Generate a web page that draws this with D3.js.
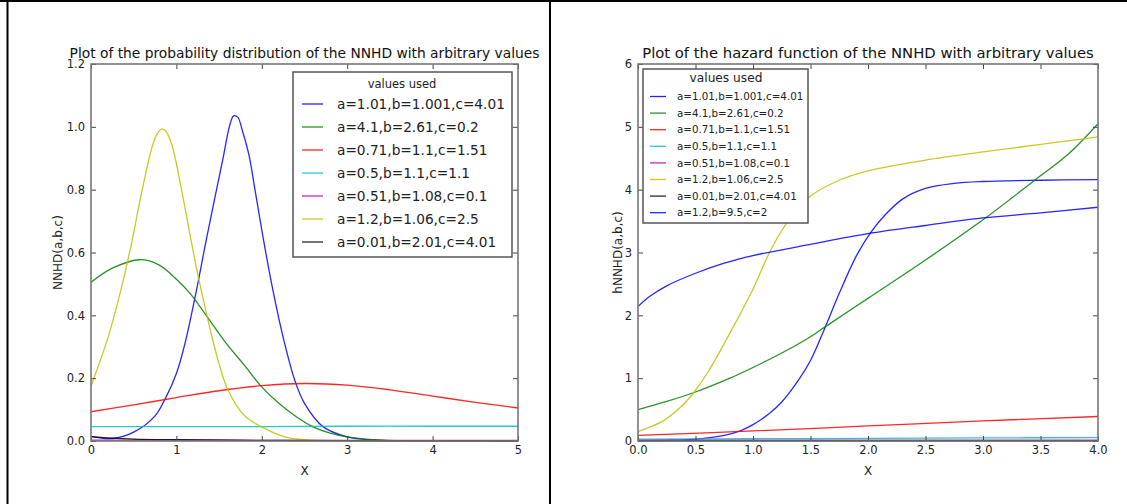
<!DOCTYPE html>
<html>
<head>
<meta charset="utf-8">
<script src="https://cdn.jsdelivr.net/npm/d3@7"></script>
<style>
  body { margin: 0; background: #fff; }
  svg { display: block; font-family: "DejaVu Sans", sans-serif; }
</style>
</head>
<body>
<div id="chart"></div>
<script>
// legend labels, same parameter sets for both plots (hazard plot has one extra)
var pdfLabels = ["a=1.01,b=1.001,c=4.01", "a=4.1,b=2.61,c=0.2", "a=0.71,b=1.1,c=1.51",
  "a=0.5,b=1.1,c=1.1", "a=0.51,b=1.08,c=0.1", "a=1.2,b=1.06,c=2.5", "a=0.01,b=2.01,c=4.01"];
var hazLabels = pdfLabels.concat(["a=1.2,b=9.5,c=2"]);
var seriesColors = ["#0000ff", "#008000", "#ff0000", "#00bfbf", "#bf00bf", "#bfbf00", "#000000", "#0000ff"];

// x ticks / y ticks
var pdfXTicks = [0, 1, 2, 3, 4, 5];
var pdfYTicks = [0, 0.2, 0.4, 0.6, 0.8, 1.0, 1.2];
var hazXTicks = [0, 0.5, 1, 1.5, 2, 2.5, 3, 3.5, 4];
var hazYTicks = [0, 1, 2, 3, 4, 5, 6];

// values, [x, y]
var pdfBlue = [[0,0.015],[0.25,0.008],[0.5,0.028],[0.75,0.08],[0.87,0.135],[1.0,0.215],[1.1,0.31],[1.22,0.46],
  [1.35,0.64],[1.47,0.8],[1.55,0.905],[1.62,1.0],[1.67,1.035],[1.72,1.03],[1.77,0.99],[1.85,0.91],[1.92,0.8],
  [2.02,0.64],[2.13,0.48],[2.25,0.33],[2.39,0.19],[2.5,0.12],[2.72,0.045],[3.0,0.013],[3.25,0.004],[3.5,0.001],
  [4,0],[5,0]];
var pdfGreen = [[0,0.505],[0.25,0.55],[0.57,0.577],[0.8,0.56],[1.0,0.515],[1.16,0.47],[1.4,0.38],[1.6,0.305],
  [1.8,0.24],[1.98,0.178],[2.2,0.12],[2.4,0.078],[2.6,0.045],[2.8,0.025],[3.0,0.013],[3.3,0.004],[3.6,0.001],[4,0],[5,0]];
var pdfRed = [[0,0.093],[0.5,0.115],[1,0.138],[1.5,0.16],[2,0.176],[2.5,0.183],[3,0.178],[3.5,0.163],
  [4,0.143],[4.5,0.123],[5,0.105]];
var pdfCyan = [[0,0.046],[1,0.046],[2,0.046],[3,0.047],[4,0.047],[5,0.047]];
var pdfMagenta = [[0,0.003],[1,0.003],[2,0.002],[3,0.002],[4,0.002],[5,0.002]];
var pdfYellow = [[0,0.175],[0.2,0.33],[0.34,0.47],[0.46,0.61],[0.6,0.8],[0.72,0.94],[0.78,0.98],[0.83,0.993],
  [0.88,0.985],[0.95,0.94],[1.06,0.8],[1.15,0.67],[1.25,0.53],[1.3,0.47],[1.4,0.35],[1.5,0.245],[1.6,0.165],
  [1.8,0.08],[2.0,0.045],[2.25,0.015],[2.5,0.004],[3,0],[5,0]];
var pdfBlack = [[0,0.014],[0.25,0.009],[0.5,0.006],[1,0.004],[2,0.002],[3,0.001],[5,0]];

// values, [x, y]
var hazBlue = [[0,0.005],[0.25,0.01],[0.5,0.03],[0.75,0.09],[0.9,0.17],[1.0,0.26],[1.15,0.45],[1.25,0.62],
  [1.4,0.98],[1.5,1.28],[1.63,1.82],[1.75,2.35],[1.9,2.95],[2.02,3.31],[2.15,3.6],[2.3,3.85],[2.5,4.02],
  [2.75,4.1],[3.0,4.13],[3.5,4.15],[4,4.16]];
var hazGreen = [[0,0.5],[0.25,0.63],[0.5,0.78],[0.8,1.0],[1.0,1.17],[1.25,1.4],[1.5,1.66],[1.63,1.82],
  [2.0,2.27],[2.5,2.88],[3.0,3.52],[3.45,4.15],[3.75,4.58],[4.0,5.05]];
var hazRed = [[0,0.09],[1,0.16],[2,0.24],[3,0.32],[4,0.39]];
var hazCyan = [[0,0.03],[1,0.036],[2,0.042],[3,0.049],[4,0.055]];
var hazMagenta = [[0,0.012],[1,0.012],[2,0.012],[3,0.012],[4,0.012]];
var hazYellow = [[0,0.15],[0.2,0.3],[0.3,0.43],[0.4,0.59],[0.48,0.76],[0.6,1.07],[0.8,1.72],[1.0,2.42],[1.13,2.95],
  [1.25,3.35],[1.38,3.68],[1.5,3.9],[1.75,4.15],[2.0,4.3],[2.5,4.47],[3.0,4.6],[3.5,4.72],[4.0,4.84]];
var hazBlack = [[0,0.004],[1,0.004],[2,0.004],[3,0.004],[4,0.004]];
var hazBlue2 = [[0,2.14],[0.1,2.3],[0.25,2.47],[0.5,2.67],[0.75,2.83],[1.0,2.95],[1.5,3.13],[2,3.3],
  [2.5,3.43],[3,3.55],[3.5,3.63],[4,3.72]];

var pdfSeries = [pdfBlue, pdfGreen, pdfRed, pdfCyan, pdfMagenta, pdfYellow, pdfBlack];
var hazSeries = [hazBlue, hazGreen, hazRed, hazCyan, hazMagenta, hazYellow, hazBlack, hazBlue2];

var width = 1127, height = 504;
var svg = d3.select("#chart").append("svg")
  .attr("width", width)
  .attr("height", height);

// table cell borders around the two pictures
svg.append("line").attr("x1", 0).attr("x2", width).attr("y1", 1).attr("y2", 1)
  .attr("stroke", "#000").attr("stroke-width", 2);
svg.append("line").attr("x1", 7.5).attr("x2", 7.5).attr("y1", 0).attr("y2", height)
  .attr("stroke", "#000").attr("stroke-width", 2);
svg.append("line").attr("x1", 550).attr("x2", 550).attr("y1", 0).attr("y2", height)
  .attr("stroke", "#000").attr("stroke-width", 2);

function drawPlot(opt) {
  var x = d3.scaleLinear().domain(opt.xDomain).range([opt.left, opt.right]);
  var y = d3.scaleLinear().domain(opt.yDomain).range([opt.bottom, opt.top]);
  var g = svg.append("g");

  var clipId = "clip-" + opt.id;
  svg.append("clipPath").attr("id", clipId).append("rect")
    .attr("x", opt.left).attr("y", opt.top - 2)
    .attr("width", opt.right - opt.left).attr("height", opt.bottom - opt.top + 3);

  var line = d3.line()
    .x(function(d){ return x(d[0]); })
    .y(function(d){ return y(d[1]); })
    .curve(d3.curveCatmullRom.alpha(0.5));

  g.append("g").attr("clip-path", "url(#" + clipId + ")")
    .selectAll("path")
    .data(opt.series)
    .join("path")
    .attr("fill", "none")
    .attr("stroke", function(d, i){ return seriesColors[i]; })
    .attr("stroke-width", 1.3)
    .attr("stroke-opacity", 0.85)
    .attr("d", line);

  //ticks point inwards on all four sides, labels only bottom and left
  var bottom = g.append("g").attr("transform", "translate(0," + opt.bottom + ")")
    .call(d3.axisBottom(x).tickValues(opt.xTicks).tickFormat(d3.format(opt.xFormat)).tickSize(-5).tickPadding(5));
  var top = g.append("g").attr("transform", "translate(0," + opt.top + ")")
    .call(d3.axisTop(x).tickValues(opt.xTicks).tickFormat("").tickSize(-5));
  var left = g.append("g").attr("transform", "translate(" + opt.left + ",0)")
    .call(d3.axisLeft(y).tickValues(opt.yTicks).tickFormat(d3.format(opt.yFormat)).tickSize(-5).tickPadding(6));
  var right = g.append("g").attr("transform", "translate(" + opt.right + ",0)")
    .call(d3.axisRight(y).tickValues(opt.yTicks).tickFormat("").tickSize(-5));
  [bottom, top, left, right].forEach(function(a){
    a.select(".domain").remove();
    a.selectAll("line").attr("stroke", "#444");
    a.selectAll("text").attr("fill", "#222").style("font-size", "11.5px")
      .style("font-family", "DejaVu Sans, sans-serif");
  });

  g.append("rect")
    .attr("x", opt.left).attr("y", opt.top)
    .attr("width", opt.right - opt.left).attr("height", opt.bottom - opt.top)
    .attr("fill", "none").attr("stroke", "#777").attr("stroke-width", 1.6);

  g.append("text")
    .attr("x", (opt.left + opt.right) / 2).attr("y", opt.top - 6)
    .attr("text-anchor", "middle").attr("font-size", opt.titleSize).attr("fill", "#111")
    .text(opt.title);
  g.append("text")
    .attr("x", (opt.left + opt.right) / 2).attr("y", 475)
    .attr("text-anchor", "middle").attr("font-size", 12).attr("fill", "#222")
    .text("X");
  g.append("text")
    .attr("transform", "translate(" + opt.yLabelX + "," + ((opt.top + opt.bottom) / 2) + ") rotate(-90)")
    .attr("text-anchor", "middle").attr("font-size", 12).attr("fill", "#222")
    .text(opt.yLabel);

  //legend box
  var L = opt.legend;
  var lg = g.append("g");
  lg.append("rect")
    .attr("x", L.x).attr("y", L.y).attr("width", L.w).attr("height", L.h)
    .attr("fill", "#fff").attr("stroke", "#555").attr("stroke-width", 1.5);
  lg.append("text")
    .attr("x", L.titleX).attr("y", L.titleY)
    .attr("text-anchor", "middle").attr("font-size", L.titleSize).attr("fill", "#222")
    .text("values used");
  var rows = lg.selectAll("g.row").data(opt.labels).join("g").attr("class", "row")
    .attr("transform", function(d, i){ return "translate(0," + (L.firstY + i * L.step) + ")"; });
  rows.append("line")
    .attr("x1", L.x + L.sample[0]).attr("x2", L.x + L.sample[1])
    .attr("stroke", function(d, i){ return seriesColors[i]; })
    .attr("stroke-opacity", 0.85)
    .attr("stroke-width", 1.3);
  rows.append("text")
    .attr("x", L.x + L.textX).attr("dy", "0.35em")
    .attr("font-size", L.fontSize).attr("fill", "#222")
    .text(function(d){ return d; });
}

drawPlot({
  id: "pdf", left: 91, right: 518, top: 64, bottom: 441,
  xDomain: [0, 5], yDomain: [0, 1.2], xTicks: pdfXTicks, yTicks: pdfYTicks,
  xFormat: "d", yFormat: ".1f",
  series: pdfSeries, labels: pdfLabels,
  title: "Plot of the probability distribution of the NNHD with arbitrary values", titleSize: 13.8,
  yLabel: "NNHD(a,b,c)", yLabelX: 62,
  legend: { x: 293, y: 72, w: 219, h: 185, titleX: 402, titleY: 88, titleSize: 11.5,
    firstY: 104, step: 23, sample: [9, 30], textX: 44, fontSize: 13.7 }
});

drawPlot({
  id: "haz", left: 638, right: 1098, top: 64, bottom: 441,
  xDomain: [0, 4], yDomain: [0, 6], xTicks: hazXTicks, yTicks: hazYTicks,
  xFormat: ".1f", yFormat: "d",
  series: hazSeries, labels: hazLabels,
  title: "Plot of the hazard function of the NNHD with arbitrary values", titleSize: 14.8,
  yLabel: "hNNHD(a,b,c)", yLabelX: 622,
  legend: { x: 643, y: 69, w: 165, h: 154, titleX: 726, titleY: 82, titleSize: 12.2,
    firstY: 96.5, step: 16.6, sample: [7, 23], textX: 34, fontSize: 10.3 }
});
</script>
</body>
</html>
